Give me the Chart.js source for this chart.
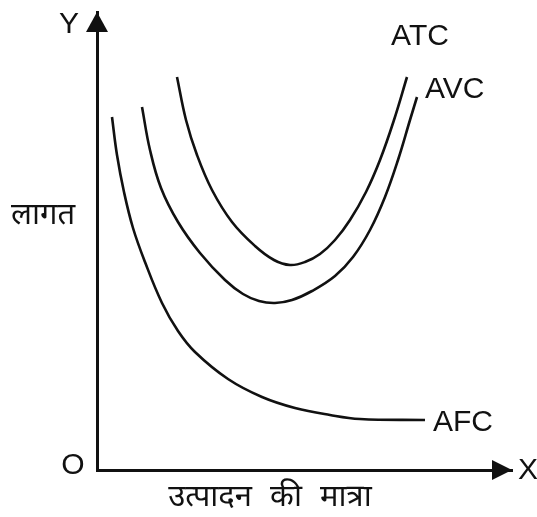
<!DOCTYPE html>
<html>
<head>
<meta charset="utf-8">
<script src="https://cdn.jsdelivr.net/npm/chart.js@4"></script>
<style>
  html, body { margin: 0; padding: 0; background: #fff; }
  #wrap { width: 537px; height: 517px; }
</style>
</head>
<body>
<div id="wrap"><canvas id="costChart" width="537" height="517"></canvas></div>
<script>
// curve points (x = output, y = cost)
const atcPoints = [[80,393],[89,350],[100,315],[115,280],[135,248],[158,224],[177,210],[193,205],
  [208,208],[223,216],[238,230],[253,250],[269,278],[283,310],[297,350],[310,393]];
const avcPoints = [[45,363],[53,320],[64,282],[81,248],[103,217],[128,190],[146,176],[162,169],
  [178,167],[195,170],[215,179],[238,194],[256,213],[273,240],[288,273],[301,310],[313,350],[320,373]];
const afcPoints = [[15,353],[20,315],[27,278],[36,242],[48,208],[65,167],[81,139],[98,118],
  [131,91],[165,73],[198,62],[233,55],[263,51],[328,50]];

const curveNames = ["ATC", "AVC", "AFC"];
const axisNames = { x: "X", y: "Y", origin: "O" };
const axisTitles = { x: "उत्पादन की मात्रा", y: "लागत" };

const INK = "#111";
const LATIN = "30px 'Liberation Sans', Arial, sans-serif";
const HINDI = "31px 'Noto Sans Devanagari', 'Lohit Devanagari', 'Noto Sans', sans-serif";

const toXY = pts => pts.map(p => ({ x: p[0], y: p[1] }));

// arrows, curve names and axis titles
const annotate = {
  id: "annotate",
  afterDraw(chart) {
    const { ctx, scales: { x, y } } = chart;
    const ox = x.getPixelForValue(0), oy = y.getPixelForValue(0);
    const xEnd = x.getPixelForValue(x.max), yEnd = y.getPixelForValue(y.max);

    ctx.save();
    ctx.fillStyle = INK;
    // arrow heads
    ctx.beginPath();
    ctx.moveTo(ox, yEnd);
    ctx.lineTo(ox - 11, yEnd + 20);
    ctx.lineTo(ox + 11, yEnd + 20);
    ctx.closePath();
    ctx.fill();
    ctx.beginPath();
    ctx.moveTo(xEnd, oy);
    ctx.lineTo(xEnd - 20, oy - 10);
    ctx.lineTo(xEnd - 20, oy + 10);
    ctx.closePath();
    ctx.fill();

    ctx.font = LATIN;
    ctx.textBaseline = "middle";
    ctx.textAlign = "center";
    ctx.fillText(axisNames.y, ox - 28, yEnd + 13);
    ctx.fillText(axisNames.origin, ox - 24, oy - 4);
    ctx.fillText(axisNames.x, xEnd + 16, oy + 1);

    // curve names next to the end of each curve
    chart.data.datasets.forEach((ds, i) => {
      const last = ds.data[ds.data.length - 1];
      const px = x.getPixelForValue(last.x), py = y.getPixelForValue(last.y);
      if (i === 0) {
        ctx.textAlign = "center";
        ctx.fillText(curveNames[i], px + 13, py - 40);
      } else {
        ctx.textAlign = "left";
        ctx.fillText(curveNames[i], px + 8, py + (i === 1 ? -7 : 3));
      }
    });

    ctx.font = HINDI;
    ctx.textAlign = "center";
    ctx.wordSpacing = "10px";
    ctx.fillText(axisTitles.y, 43, y.getPixelForValue(252));
    ctx.fillText(axisTitles.x, x.getPixelForValue(173), oy + 30);
    ctx.restore();
  }
};

new Chart(document.getElementById("costChart"), {
  type: "line",
  data: {
    datasets: [atcPoints, avcPoints, afcPoints].map((pts, i) => ({
      label: curveNames[i],
      data: toXY(pts),
      borderColor: INK,
      borderWidth: 2.6,
      pointRadius: 0,
      tension: 0.4,
      fill: false,
    }))
  },
  options: {
    responsive: false,
    animation: false,
    events: [],
    layout: { padding: { left: 97, right: 25, top: 12, bottom: 47 } },
    plugins: { legend: { display: false }, tooltip: { enabled: false } },
    scales: {
      x: {
        type: "linear", min: 0, max: 415,
        ticks: { display: false },
        grid: { display: false, drawTicks: false },
        border: { display: true, color: INK, width: 3 },
        afterFit: s => { s.height = 0; },
      },
      y: {
        type: "linear", min: 0, max: 458,
        ticks: { display: false },
        grid: { display: false, drawTicks: false },
        border: { display: true, color: INK, width: 3 },
        afterFit: s => { s.width = 0; },
      },
    },
  },
  plugins: [annotate],
});
</script>
</body>
</html>
